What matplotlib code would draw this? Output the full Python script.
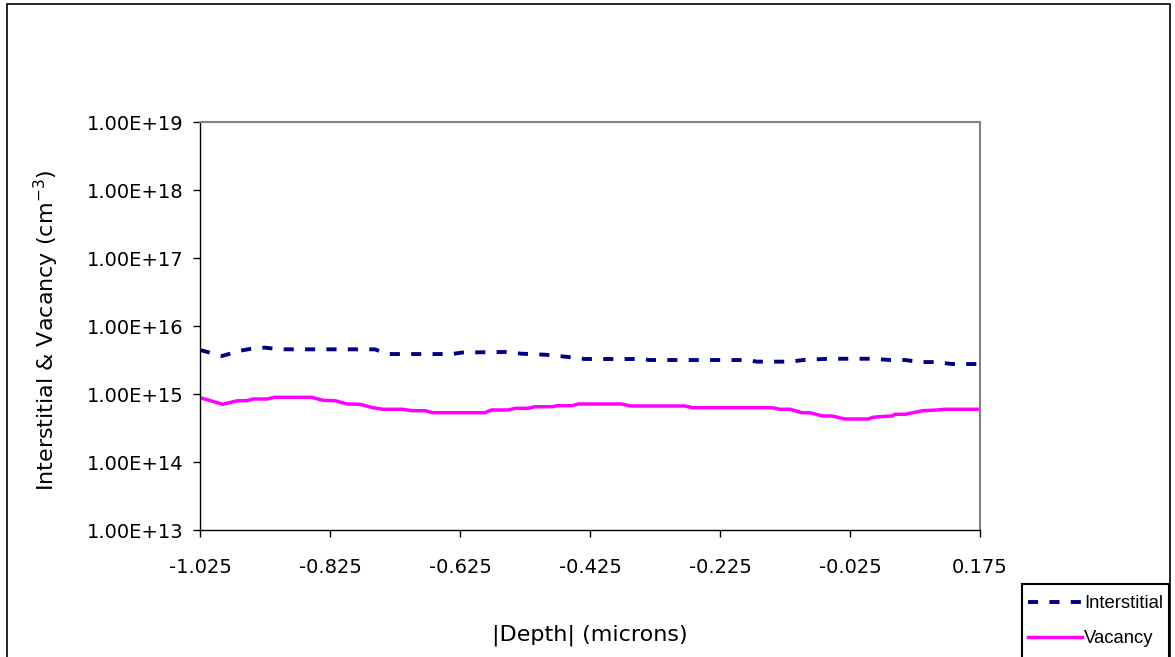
import matplotlib
matplotlib.use("Agg")
import matplotlib.pyplot as plt
from matplotlib.patches import Rectangle
from matplotlib.lines import Line2D
from matplotlib.ticker import NullLocator

# depth (microns) and concentration (cm^-3)
inter_depth = [-1.025, -0.991, -0.963, -0.940, -0.925, -0.902, -0.756, -0.736,
               -0.637, -0.622, -0.556, -0.530, -0.494, -0.463, -0.433, -0.348,
               -0.333, -0.185, -0.168, -0.117, -0.097, -0.067, -0.034, 0.009,
               0.037, 0.060, 0.083, 0.106, 0.132, 0.175]
inter_conc = [4.44e15, 3.62e15, 4.33e15, 4.75e15, 4.80e15, 4.54e15, 4.54e15, 3.87e15,
              3.87e15, 4.07e15, 4.15e15, 3.91e15, 3.78e15, 3.54e15, 3.27e15, 3.27e15,
              3.16e15, 3.16e15, 2.99e15, 2.99e15, 3.16e15, 3.27e15, 3.30e15, 3.30e15,
              3.16e15, 3.16e15, 2.95e15, 2.95e15, 2.76e15, 2.76e15]

vac_depth = [-1.025, -0.990, -0.967, -0.953, -0.943, -0.922, -0.910, -0.853,
             -0.836, -0.817, -0.799, -0.779, -0.759, -0.743, -0.713, -0.699,
             -0.679, -0.667, -0.587, -0.576, -0.551, -0.540, -0.520, -0.510,
             -0.483, -0.476, -0.453, -0.443, -0.376, -0.363, -0.279, -0.267,
             -0.145, -0.133, -0.117, -0.099, -0.087, -0.067, -0.053, -0.033,
             0.003, 0.010, 0.021, 0.040, 0.044, 0.060, 0.087, 0.109, 0.121, 0.175]
vac_conc = [8.83e14, 7.06e14, 7.97e14, 7.97e14, 8.44e14, 8.44e14, 8.94e14, 8.94e14,
            8.08e14, 7.97e14, 7.13e14, 7.06e14, 6.29e14, 5.96e14, 5.96e14, 5.68e14,
            5.68e14, 5.31e14, 5.31e14, 5.82e14, 5.82e14, 6.16e14, 6.16e14, 6.50e14,
            6.50e14, 6.73e14, 6.73e14, 7.13e14, 7.13e14, 6.66e14, 6.66e14, 6.29e14,
            6.29e14, 5.96e14, 5.96e14, 5.31e14, 5.31e14, 4.75e14, 4.75e14, 4.29e14,
            4.29e14, 4.54e14, 4.64e14, 4.75e14, 5.03e14, 5.03e14, 5.68e14, 5.82e14,
            5.96e14, 5.96e14]

x_tick_labels = ["-1.025", "-0.825", "-0.625", "-0.425", "-0.225", "-0.025", "0.175"]
y_ticks = [1e13, 1e14, 1e15, 1e16, 1e17, 1e18, 1e19]

W, H = 1175, 657
fig = plt.figure(figsize=(W / 100, H / 100), dpi=100)
fig.patch.set_facecolor("white")

# outer chart border
fig.patches.append(Rectangle((7 / W, -0.1), 1163 / W, 1 - 4 / H + 0.1,
                             transform=fig.transFigure, fill=False,
                             edgecolor="black", lw=1.2, clip_on=False))

ax = fig.add_axes([200 / W, 127 / H, 780 / W, 408 / H])
ax.set_yscale("log")
ax.set_xlim(-1.025, 0.175)
ax.set_ylim(1e13, 1e19)

ax.plot(inter_depth, inter_conc, color="#000080", lw=2.8,
        linestyle=(0, (2.6, 2.9)), dash_capstyle="butt", label="Interstitial")
ax.plot(vac_depth, vac_conc, color="#FF00FF", lw=2.5, label="Vacancy")

ax.set_xticks([float(t) for t in x_tick_labels])
ax.set_xticklabels(x_tick_labels)
ax.set_yticks(y_ticks)
ax.set_yticklabels(["%.2E" % v for v in y_ticks])
ax.yaxis.set_minor_locator(NullLocator())
ax.tick_params(axis="both", direction="out", length=5, width=1, color="black",
               labelsize=14, labelcolor="black")
ax.tick_params(axis="y", pad=7)
ax.tick_params(axis="x", pad=15)
for lab in ax.get_xticklabels() + ax.get_yticklabels():
    lab.set_family("DejaVu Sans")

for s in ["left", "bottom"]:
    ax.spines[s].set_color("black")
    ax.spines[s].set_linewidth(1.0)
for s in ["top", "right"]:
    ax.spines[s].set_color("#808080")
    ax.spines[s].set_linewidth(1.5)

fig.text(46 / W, 1 - 330 / H, "Interstitial & Vacancy (cm$^{-3}$)", rotation=90,
         ha="center", va="center", fontsize=16, family="DejaVu Sans")
fig.text(590 / W, 1 - 635 / H, "|Depth| (microns)", ha="center", va="center",
         fontsize=16, family="DejaVu Sans")

# legend box (runs off the bottom like the original)
fig.patches.append(Rectangle((1022 / W, -0.1), 147 / W, 1 - 584 / H + 0.1,
                             transform=fig.transFigure, fill=False,
                             edgecolor="black", lw=1.5, clip_on=False))
handles = [Line2D([], [], color="#000080", lw=2.8, linestyle=(0, (2.6, 2.9)),
                  dash_capstyle="butt"),
           Line2D([], [], color="#FF00FF", lw=2.5)]
fig.legend(handles, ["Interstitial", "Vacancy"], loc="upper left",
           bbox_to_anchor=(1028 / W, 1 - 595 / H), frameon=False,
           prop={"family": "Liberation Sans", "size": 13.3},
           handlelength=2.9, handletextpad=0.15, labelspacing=1.0,
           borderaxespad=0, borderpad=0)

fig.savefig("out.png", dpi=100)
